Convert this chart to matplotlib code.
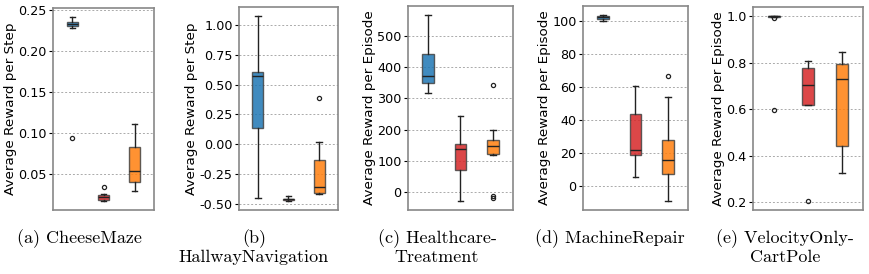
import matplotlib
matplotlib.use('Agg')
import matplotlib.pyplot as plt

# box stats, order: blue, red, orange
# (whislo, q1, med, q3, whishi)
cheese = [(0.2277, 0.231, 0.2337, 0.236, 0.2415),
          (0.0169, 0.018, 0.0214, 0.0242, 0.025),
          (0.029, 0.0398, 0.0533, 0.0823, 0.111)]
cheese_fl = [[0.0938], [0.0344], []]

hallway = [(-0.45, 0.138, 0.568, 0.607, 1.073),
           (-0.474, -0.468, -0.46, -0.455, -0.438),
           (-0.418, -0.41, -0.362, -0.135, 0.017)]
hallway_fl = [[], [], [0.391]]

health = [(317, 349, 372, 441.5, 565),
          (-26.5, 70, 140, 155, 245),
          (120, 123, 149, 168, 198)]
health_fl = [[], [], [343, -13, -17]]

machine = [(100.4, 101.6, 102.4, 103.0, 103.7),
           (5.1, 18.7, 21.5, 43.6, 60.9),
           (-9.1, 7.3, 15.8, 28, 54)]
machine_fl = [[], [], [67]]

cartpole = [(0.996, 0.998, 0.999, 1.0, 1.0),
            (0.617, 0.62, 0.706, 0.777, 0.808),
            (0.328, 0.444, 0.729, 0.794, 0.845)]
cartpole_fl = [[0.993, 0.596], [0.207], []]

panels = [cheese, hallway, health, machine, cartpole]
fliers = [cheese_fl, hallway_fl, health_fl, machine_fl, cartpole_fl]
ylabels = ['Average Reward per Step', 'Average Reward per Step',
           'Average Reward per Episode', 'Average Reward per Episode',
           'Average Reward per Episode']
yticks = [[0.05, 0.10, 0.15, 0.20, 0.25],
          [-0.50, -0.25, 0.00, 0.25, 0.50, 0.75, 1.00],
          [0, 100, 200, 300, 400, 500],
          [0, 20, 40, 60, 80, 100],
          [0.2, 0.4, 0.6, 0.8, 1.0]]
tickfmt = ['%.2f', '%.2f', '%d', '%d', '%.1f']
captions = ['(a) CheeseMaze', '(b)\nHallwayNavigation', '(c) Healthcare-\nTreatment',
            '(d) MachineRepair', '(e) VelocityOnly-\nCartPole']
cap_x = [79, 254, 437, 610, 785]

colors = ['tab:blue', 'tab:red', 'tab:orange']

# axes boxes in pixels (left, right, top, bottom)
boxes = [(53, 154, 8, 210), (239, 338, 7, 210), (408, 513, 6, 210),
         (583, 688, 6, 210), (753, 863, 7, 210)]

W, H = 870, 274
fig = plt.figure(figsize=(W / 100, H / 100), dpi=100)

for i in range(5):
    l, r, t, b = boxes[i]
    ax = fig.add_axes([l / W, 1 - b / H, (r - l) / W, (b - t) / H])
    stats = []
    for s, fl in zip(panels[i], fliers[i]):
        stats.append(dict(whislo=s[0], q1=s[1], med=s[2], q3=s[3], whishi=s[4], fliers=fl))
    bp = ax.bxp(stats, positions=[1, 2, 3], widths=0.36, patch_artist=True,
                boxprops=dict(edgecolor='#444444', linewidth=1.0),
                medianprops=dict(color='#222222', linewidth=1.0),
                whiskerprops=dict(color='#222222', linewidth=1.0),
                capprops=dict(color='#222222', linewidth=1.0),
                flierprops=dict(marker='o', markersize=3, markerfacecolor='none',
                                markeredgecolor='#222222', markeredgewidth=0.9))
    for patch, c in zip(bp['boxes'], colors):
        patch.set_facecolor(c)
        patch.set_alpha(0.85)
    ax.set_xlim(0.38, 3.62)
    ax.set_xticks([])
    ax.set_yticks(yticks[i])
    ax.set_yticklabels([tickfmt[i] % v for v in yticks[i]])
    ax.tick_params(axis='y', labelsize=9.2, length=3, width=0.8, pad=1.5)
    ax.grid(axis='y', linestyle=(0, (2, 2)), color='#aaaaaa', linewidth=0.7)
    ax.set_axisbelow(True)
    for sp in ax.spines.values():
        sp.set_color('#888888')
        sp.set_linewidth(1.2)
    ax.set_ylabel(ylabels[i], fontsize=9.7, labelpad=1)
    fig.text(cap_x[i] / W, 1 - 229 / H, captions[i], ha='center', va='top',
             multialignment='center', fontsize=13, family='cmr10', linespacing=1.15)

fig.savefig('out.png', dpi=100)
